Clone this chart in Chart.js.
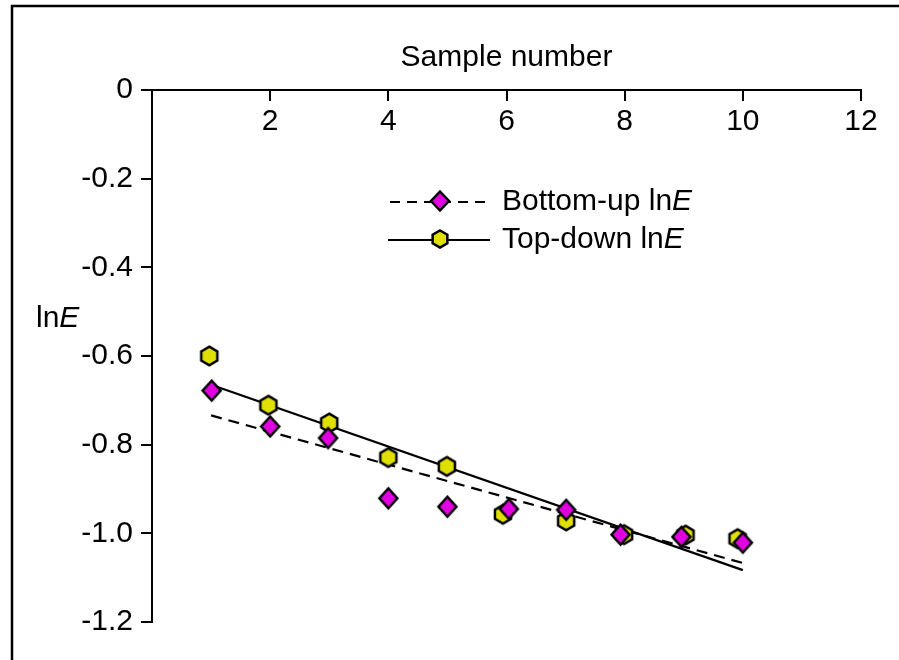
<!DOCTYPE html>
<html>
<head>
<meta charset="utf-8">
<script src="https://cdn.jsdelivr.net/npm/chart.js@4/dist/chart.umd.min.js"></script>
<style>
html,body{margin:0;padding:0;background:#fff;}
#c{display:block;}
</style>
</head>
<body>
<canvas id="c" width="899" height="660"></canvas>
<script>
// ---- data ----
const xTickValues = [0, 2, 4, 6, 8, 10, 12];
const yTickValues = [0, -0.2, -0.4, -0.6, -0.8, -1.0, -1.2];

const sampleTopDown = [0.97, 1.97, 3.0, 4.0, 4.99, 5.94, 7.01, 7.99, 9.03, 9.91];
const lnETopDown    = [-0.600, -0.711, -0.751, -0.829, -0.849, -0.957, -0.972, -1.003, -1.004, -1.012];

const sampleBottomUp = [1.01, 2.0, 2.98, 4.0, 5.0, 6.04, 7.01, 7.93, 8.96, 10.0];
const lnEBottomUp    = [-0.678, -0.759, -0.785, -0.921, -0.940, -0.945, -0.947, -1.003, -1.008, -1.021];

const trendSample    = [1, 10];
const trendTopDown   = [-0.665, -1.083];
const trendBottomUp  = [-0.734, -1.067];

const seriesNames = ['Bottom-up ln', 'Top-down ln'];
const xTitle = 'Sample number';

// ---- styles ----
const FONT = '"Liberation Sans", Arial, Helvetica, sans-serif';
const FS = 30;
const MAGENTA = '#e000e0';
const YELLOW = '#e0e000';

function hexagonCanvas(R, fill) {
  const s = Math.ceil(2 * R + 5);
  const c = document.createElement('canvas');
  c.width = s; c.height = s;
  const g = c.getContext('2d');
  g.beginPath();
  for (let k = 0; k < 6; k++) {
    const a = (-90 + 60 * k) * Math.PI / 180;
    const px = s / 2 + R * Math.cos(a), py = s / 2 + R * Math.sin(a);
    if (k === 0) g.moveTo(px, py); else g.lineTo(px, py);
  }
  g.closePath();
  g.fillStyle = fill; g.fill();
  g.lineWidth = 2.5; g.strokeStyle = '#000'; g.lineJoin = 'miter'; g.stroke();
  return c;
}
function diamondCanvas(hw, hh, fill) {
  const s = Math.ceil(2 * Math.max(hw, hh) + 5);
  const c = document.createElement('canvas');
  c.width = s; c.height = s;
  const g = c.getContext('2d');
  const m = s / 2;
  g.beginPath();
  g.moveTo(m, m - hh); g.lineTo(m + hw, m); g.lineTo(m, m + hh); g.lineTo(m - hw, m);
  g.closePath();
  g.fillStyle = fill; g.fill();
  g.lineWidth = 2.5; g.strokeStyle = '#000'; g.lineJoin = 'miter'; g.stroke();
  return c;
}
const hexMarker = hexagonCanvas(9.3, YELLOW);
const diaMarker = diamondCanvas(9, 10, MAGENTA);
const hexLegend = hexagonCanvas(8.5, YELLOW);
const diaLegend = diamondCanvas(9, 9.5, MAGENTA);

const toPts = (xs, ys) => xs.map((x, i) => ({ x: x, y: ys[i] }));

function drawMixed(ctx, x, y, normal, italic, size) {
  ctx.save();
  ctx.fillStyle = '#000';
  ctx.textBaseline = 'middle';
  ctx.textAlign = 'left';
  ctx.font = size + 'px ' + FONT;
  ctx.fillText(normal, x, y);
  const w = ctx.measureText(normal).width;
  ctx.font = 'italic ' + size + 'px ' + FONT;
  ctx.fillText(italic, x + w, y);
  ctx.restore();
}

const decorPlugin = {
  id: 'decor',
  beforeDraw(chart) {
    const ctx = chart.ctx;
    ctx.save();
    ctx.fillStyle = '#fff';
    ctx.fillRect(0, 0, chart.width, chart.height);
    ctx.strokeStyle = '#000';
    ctx.lineWidth = 2.5;
    ctx.beginPath();
    ctx.moveTo(12, chart.height);
    ctx.lineTo(12, 6);
    ctx.lineTo(chart.width, 6);
    ctx.stroke();
    ctx.restore();
  },
  afterDraw(chart) {
    const ctx = chart.ctx;
    // y axis label
    drawMixed(ctx, 36, 319, 'ln', 'E', FS);
    // legend
    const x0 = 388, x1 = 490, mx = 440, tx = 502;
    const r1 = 202, r2 = 240;
    ctx.save();
    ctx.strokeStyle = '#000';
    ctx.lineWidth = 2.2;
    ctx.setLineDash([10, 7]);
    ctx.lineDashOffset = 15;
    ctx.beginPath(); ctx.moveTo(x0, r1); ctx.lineTo(x1, r1); ctx.stroke();
    ctx.setLineDash([]);
    ctx.beginPath(); ctx.moveTo(x0, r2); ctx.lineTo(x1, r2); ctx.stroke();
    ctx.drawImage(diaLegend, mx - diaLegend.width / 2, r1 - 1 - diaLegend.height / 2);
    ctx.drawImage(hexLegend, mx - hexLegend.width / 2, r2 - 1 - hexLegend.height / 2);
    ctx.restore();
    drawMixed(ctx, tx, r1, seriesNames[0], 'E', FS);
    drawMixed(ctx, tx, r2, seriesNames[1], 'E', FS);
  }
};

Chart.defaults.font.family = FONT;
Chart.defaults.color = '#000';

new Chart(document.getElementById('c'), {
  type: 'scatter',
  data: {
    datasets: [
      {
        label: seriesNames[0] + 'E',
        data: toPts(sampleBottomUp, lnEBottomUp),
        pointStyle: diaMarker,
        showLine: false
      },
      {
        label: seriesNames[1] + 'E',
        data: toPts(sampleTopDown, lnETopDown),
        pointStyle: hexMarker,
        showLine: false
      },
      {
        label: 'Top-down fit',
        data: toPts(trendSample, trendTopDown),
        showLine: true,
        borderColor: '#000',
        borderWidth: 2.2,
        pointRadius: 0,
        pointHoverRadius: 0
      },
      {
        label: 'Bottom-up fit',
        data: toPts(trendSample, trendBottomUp),
        showLine: true,
        borderColor: '#000',
        borderWidth: 2.2,
        borderDash: [11, 7],
        pointRadius: 0,
        pointHoverRadius: 0
      }
    ]
  },
  options: {
    responsive: false,
    animation: false,
    devicePixelRatio: 1,
    events: [],
    layout: { padding: { left: 0, top: 0, right: 38, bottom: 38 } },
    plugins: {
      legend: { display: false },
      tooltip: { enabled: false }
    },
    scales: {
      x: {
        type: 'linear',
        position: 'top',
        min: 0,
        max: 12,
        afterBuildTicks(scale) { scale.ticks = xTickValues.map(v => ({ value: v })); },
        afterFit(scale) { scale.height = 90; },
        ticks: {
          font: { size: FS },
          color: '#000',
          mirror: true,
          padding: 14,
          maxRotation: 0,
          autoSkip: false,
          callback: (v) => (v === 0 ? '' : String(v))
        },
        grid: {
          drawOnChartArea: false,
          drawTicks: true,
          tickLength: -11,
          color: '#000',
          lineWidth: 2
        },
        border: { display: true, color: '#000', width: 2 },
        title: {
          display: true,
          text: xTitle,
          font: { size: FS },
          color: '#000',
          padding: { top: 40, bottom: 0 }
        }
      },
      y: {
        type: 'linear',
        position: 'left',
        min: -1.2,
        max: 0,
        afterBuildTicks(scale) { scale.ticks = yTickValues.map(v => ({ value: v })); },
        afterFit(scale) { scale.width = 152; },
        ticks: {
          font: { size: FS },
          color: '#000',
          padding: 8,
          autoSkip: false,
          callback: (v) => (v === 0 ? '0' : Number(v).toFixed(1))
        },
        grid: {
          drawOnChartArea: false,
          drawTicks: true,
          tickLength: 11,
          color: '#000',
          lineWidth: 2
        },
        border: { display: true, color: '#000', width: 2 }
      }
    }
  },
  plugins: [decorPlugin]
});
</script>
</body>
</html>
